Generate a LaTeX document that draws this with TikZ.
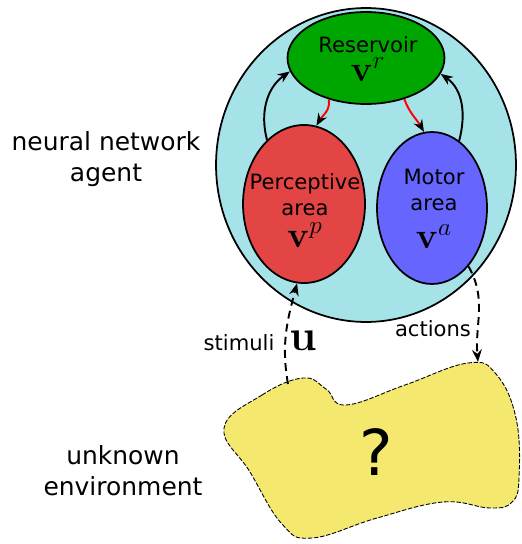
\documentclass[tikz,border=0pt]{standalone}
\usepackage[no-math]{fontspec}
\setmainfont{DejaVu Sans}
\usetikzlibrary{arrows.meta,shapes.geometric,positioning}
\definecolor{agentcyan}{HTML}{A6E3E9}
\definecolor{resgreen}{HTML}{00A600}
\definecolor{perred}{HTML}{E34444}
\definecolor{motblue}{HTML}{6666FF}
\definecolor{envyellow}{HTML}{F5E86E}

\begin{document}
\begin{tikzpicture}[x=0.02cm, y=0.02cm,
    area/.style={ellipse, draw, line width=1pt, inner sep=0pt},
    arealabel/.style={align=center, font=\fontsize{12}{15}\selectfont},
    sidelabel/.style={align=center, font=\fontsize{14.2}{17.6}\selectfont},
    iolabel/.style={font=\fontsize{12}{14}\selectfont},
    loop/.style={-{Stealth[length=7pt,width=5.5pt]}, line width=1.1pt},
    feed/.style={-{Stealth[length=7pt,width=5.5pt,black]}, red, line width=1.1pt},
    io/.style={-{Stealth[length=7pt,width=5.5pt]}, line width=1.1pt, dash pattern=on 4.5pt off 3pt}]
    \useasboundingbox (0,0) rectangle (521,-544);

    % agent
    \node [area, fill=agentcyan, minimum width=6cm, minimum height=6.28cm] (agent) at (366,-165) {};
    \node [area, fill=resgreen, minimum width=3.14cm, minimum height=1.84cm] (res) at (366,-58) {};
    \node [area, fill=perred, minimum width=2.44cm, minimum height=3.16cm] (per) at (304,-204) {};
    \node [area, fill=motblue, minimum width=2.2cm, minimum height=3.04cm] (mot) at (432,-208) {};

    \node [arealabel] (reslbl) at (368,-59) {Reservoir\\[2pt]{\fontsize{21}{21}\selectfont$\mathbf{v}^r$}};
    \node [arealabel] (perlbl) at (305,-210) {Perceptive\\area\\[3pt]{\fontsize{21}{21}\selectfont$\mathbf{v}^p$}};
    \node [arealabel] (motlbl) at (434,-209) {Motor\\area\\[6.5pt]{\fontsize{21}{21}\selectfont$\mathbf{v}^a$}};

    \draw [loop] (per.120) to[out=105, in=215] (res.190);
    \draw [loop] (mot.68) to[out=75, in=-35] (res.348);
    \draw [feed] (res.228) to[out=-80, in=60] (per.81);
    \draw [feed] (res.313) to[out=-70, in=120] (mot.96);

    % environment
    \draw [fill=envyellow, line width=0.5pt, dash pattern=on 2.5pt off 1pt]
        plot [smooth cycle, tension=0.7] coordinates {(224,-428) (262,-395) (303,-378) (326,-389) (346,-405) (405,-385) (468,-363) (496,-374) (516,-418) (519,-478) (512,-502) (490,-508) (443,-502) (377,-518) (312,-538) (282,-524) (250,-472)};
    \node [font=\fontsize{36}{40}\selectfont] (unknown) at (376,-452) {?};
    \coordinate (stim) at (288,-384);
    \coordinate (act) at (478,-362);

    \draw [io] (stim) to[out=100, in=255] (per.265);
    \draw [io] (mot.302) to[out=-60, in=95] (act);

    \node [iolabel] (stimlbl) at (239,-343) {stimuli};
    \node [font=\fontsize{24}{24}\selectfont] (ulbl) at (303,-341) {$\mathbf{u}$};
    \node [iolabel] (actlbl) at (433,-329) {actions};

    \node [sidelabel] (agentlbl) at (106,-159) {neural network\\agent};
    \node [sidelabel] (envlbl) at (123,-471) {unknown\\environment};
\end{tikzpicture}
\end{document}
